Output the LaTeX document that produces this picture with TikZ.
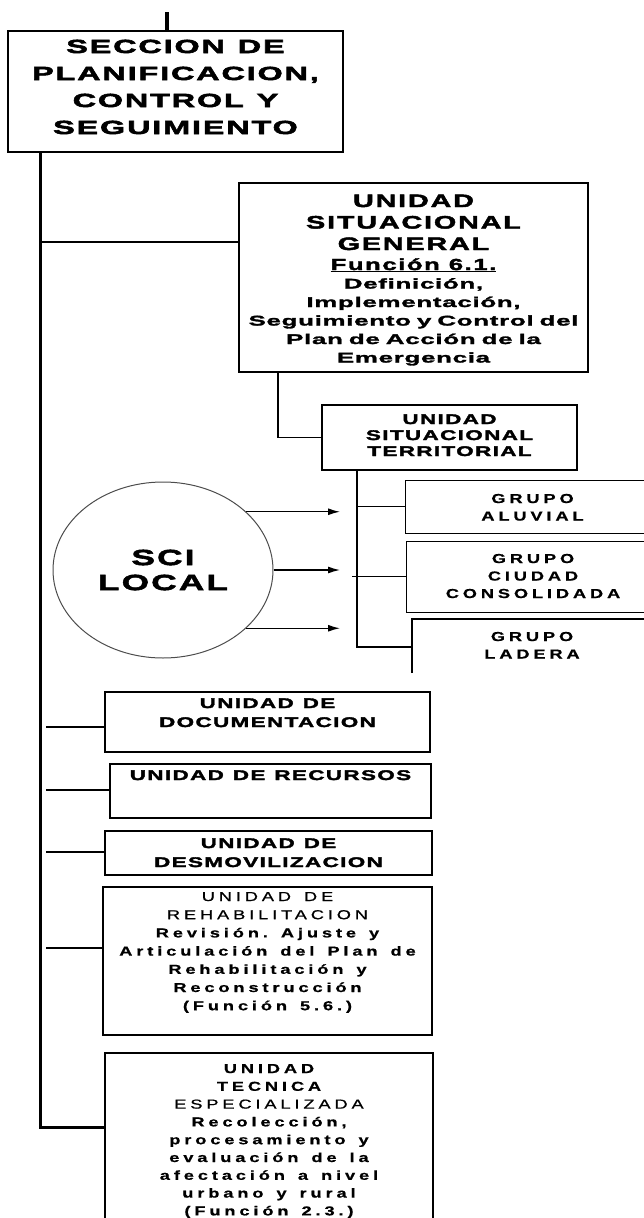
\documentclass[tikz,border=0pt]{standalone}
\usepackage{fontspec}
\setmainfont{Liberation Sans}
\newfontfamily\topfont[FakeStretch=1.7,LetterSpace=10,FakeBold=3]{Liberation Sans}
\newfontfamily\heavyfont[FakeStretch=1.6,LetterSpace=10,FakeBold=2.5]{Liberation Sans}
\newfontfamily\densefont[FakeStretch=1.85,LetterSpace=5,FakeBold=2]{Liberation Sans}
\newfontfamily\spacedfont[FakeStretch=1.4,LetterSpace=30,FakeBold=0.8]{Liberation Sans}
\newcommand{\wordgap}[1]{\spaceskip=#1\relax\xspaceskip=#1\relax}
\usetikzlibrary{arrows.meta,shapes.geometric}

\begin{document}
\begin{tikzpicture}[x=1pt,y=-1pt,
  box/.style={draw,line width=1.4pt,inner sep=0pt,outer sep=0pt,anchor=north west,align=center},
  grp/.style={box,line width=1pt,font=\spacedfont\bfseries\fontsize{13}{17.5}\selectfont,
    execute at begin node=\wordgap{12pt}},
  unit/.style={box,font=\heavyfont\bfseries\fontsize{14}{19}\selectfont,
    execute at begin node=\wordgap{9pt}},
  wide/.style={box,line width=1.2pt,font=\spacedfont\fontsize{13}{18.2}\selectfont,
    execute at begin node=\wordgap{13pt}},
  spine/.style={line width=3pt},
  branch/.style={line width=2.5pt},
  link/.style={line width=1.2pt},
  arr/.style={line width=1.3pt,-{Latex[length=12pt,width=7pt]}}]

\useasboundingbox (0,0) rectangle (644,1218);
\clip (0,0) rectangle (644,1218);

\node[box,line width=1.6pt,font=\topfont\bfseries\fontsize{19}{27}\selectfont,
  execute at begin node=\wordgap{13pt},
  text width=335pt,text height=22pt,text depth=99pt] (top) at (8,31)
  {SECCION DE\\PLANIFICACION,\\CONTROL Y\\SEGUIMIENTO};

\node[box,font=\heavyfont\bfseries\fontsize{18}{21.5}\selectfont,
  text width=349pt,text height=24pt,text depth=165pt] (usg) at (239,183)
  {UNIDAD\\SITUACIONAL\\GENERAL\par
   {\fontsize{16}{20}\selectfont\wordgap{9pt}\underline{Función 6.1.}\par}
   {\densefont\bfseries\fontsize{14}{18.5}\selectfont Definición,\\Implementación,\\Seguimiento y Control del\\Plan de Acción de la\\Emergencia\par}};

\node[unit,font=\heavyfont\bfseries\fontsize{14}{16}\selectfont,
  text width=255pt,text height=19pt,text depth=46pt] (ust) at (322,405)
  {UNIDAD\\SITUACIONAL\\TERRITORIAL};

\node[grp,text width=255pt,text height=23pt,text depth=30pt] (aluvial) at (405,480)
  {GRUPO\\ALUVIAL};
\node[grp,text width=254pt,text height=22pt,text depth=49pt] (ciudad) at (406,541)
  {GRUPO\\CIUDAD\\CONSOLIDADA};
\node[grp,draw=none,text width=240pt,text height=22pt,text depth=54pt] (ladera) at (412,619)
  {GRUPO\\LADERA};

\node[draw=black!70,line width=1pt,ellipse,minimum width=220pt,minimum height=176pt,
  inner sep=0pt,align=center,font=\heavyfont\bfseries\fontsize{22}{25}\selectfont] (sci) at (163,570)
  {SCI\\LOCAL};

\node[unit,text width=325pt,text height=16pt,text depth=44pt] (doc) at (105,692)
  {UNIDAD DE\\DOCUMENTACION};
\node[unit,text width=321pt,text height=16pt,text depth=38pt] (rec) at (110,764)
  {UNIDAD DE RECURSOS};
\node[unit,text width=327pt,text height=17pt,text depth=27pt] (desmov) at (105,831)
  {UNIDAD DE\\DESMOVILIZACION};
\node[wide,text width=329pt,text height=14pt,text depth=134pt] (rehab) at (103,887)
  {UNIDAD DE\\REHABILITACION\\{\bfseries Revisión. Ajuste y\\Articulación del Plan de\\Rehabilitación y\\Reconstrucción\\(Función 5.6.)}};
\node[wide,font=\spacedfont\fontsize{13}{17.8}\selectfont,
  text width=328pt,text height=20pt,text depth=190pt] (tec) at (105,1053)
  {{\bfseries UNIDAD\\TECNICA}\\ESPECIALIZADA\\{\bfseries Recolección,\\procesamiento y\\evaluación de la\\afectación a nivel\\urbano y rural\\(Función 2.3.)}};

\coordinate (stub) at (167,12);
\coordinate (spine) at (40,1127);
\coordinate (j0) at (40,242);
\coordinate (j1) at (46,727);
\coordinate (j2) at (46,790);
\coordinate (j3) at (46,852);
\coordinate (j4) at (46,948);
\coordinate (u1) at (278,372);
\coordinate (bus) at (357,647);
\coordinate (tip) at (340,0);
\coordinate (l0) at (412,673);
\coordinate (l1) at (660,619);

\draw[line width=3.5pt] (stub) -- (stub |- top.north);
\draw[spine] (top.south -| spine) -- (spine) -- (spine -| tec.west);
\draw[link,line width=1.5pt] (j0) -- (j0 -| usg.west);
\draw[link] (u1) |- (ust.west);
\draw[link] (ust.south -| bus) -- (bus) -- (bus -| l0);
\draw[link] (bus |- aluvial.west) -- (aluvial.west);
\draw[link] ([xshift=-5pt]bus |- ciudad.west) -- (ciudad.west);
\draw[link] (l0) |- (l1);

\draw[arr] (sci.35) -- (sci.35 -| tip);
\draw[arr] (sci.east) -- (sci.east -| tip);
\draw[arr] (sci.-35) -- (sci.-35 -| tip);

\draw[branch] (j1) -- (j1 -| doc.west);
\draw[branch] (j2) -- (j2 -| rec.west);
\draw[branch] (j3) -- (j3 -| desmov.west);
\draw[branch] (j4) -- (j4 -| rehab.west);
\end{tikzpicture}
\end{document}
